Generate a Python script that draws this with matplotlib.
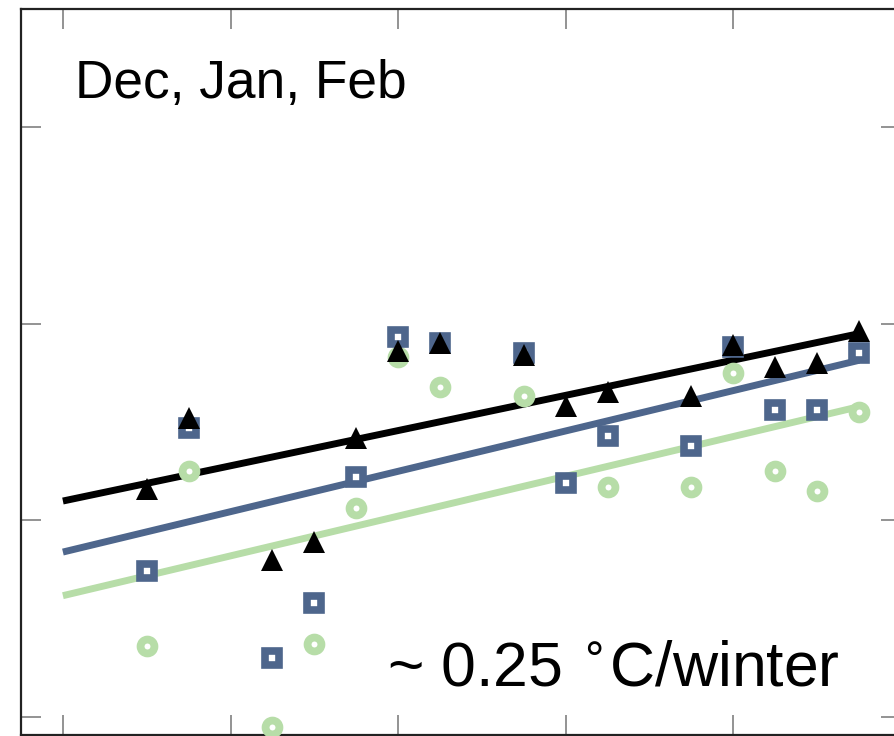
import numpy as np
import matplotlib
matplotlib.use("Agg")
import matplotlib.pyplot as plt

plt.rcParams['font.family'] = ['Liberation Sans', 'DejaVu Sans']

# winters (year of Jan) and mean Dec-Feb temperatures, three stations
years = [1994, 1995, 1997, 1998, 1999, 2000, 2001, 2003, 2004, 2005,
         2007, 2008, 2009, 2010, 2011]
temp_black = [-14.2, -12.4, -16.0, -15.55, -12.9, -10.7, -10.5, -10.8, -12.1, -11.75,
              -11.85, -10.55, -11.1, -11.0, -10.2]
temp_blue = [-16.3, -12.65, -18.5, -17.1, -13.9, -10.35, -10.5, -10.75, -14.05, -12.85,
             -13.1, -10.6, -12.2, -12.2, -10.75]
temp_green = [-18.2, -13.75, -20.25, -18.15, -14.7, -10.85, -11.6, -11.85, np.nan, -14.15,
              -14.15, -11.25, -13.75, -14.25, -12.25]

xticks = [1992, 1996, 2000, 2004, 2008]
yticks = [-20, -15, -10, -5]

c_black = 'black'
c_blue = '#4e668c'
c_green = '#b7dda8'

fig = plt.figure(figsize=(8.94, 7.36), dpi=100)
ax = fig.add_axes([21 / 894, 1 / 736, 880 / 894, 726 / 736])

x = np.array(years, dtype=float)
xfit = np.array([xticks[0], years[-1]], dtype=float)

for vals, col in [(temp_green, c_green), (temp_blue, c_blue), (temp_black, c_black)]:
    v = np.array(vals)
    ok = ~np.isnan(v)
    k, b = np.polyfit(x[ok], v[ok], 1)
    ax.plot(xfit, k * xfit + b, color=col, lw=5, zorder=2, solid_capstyle='butt')

ax.plot(x, temp_green, 'o', ms=10, mew=5.6, mfc='white', mec=c_green, zorder=3)
ax.plot(x, temp_blue, 's', ms=10.5, mew=5.5, mfc='white', mec=c_blue, zorder=4)
ax.plot(x, temp_black, '^', ms=16.5, mew=0, color=c_black, zorder=5)

ax.set_xlim(1991, 2012)
ax.set_ylim(-20.46, -2.0)
ax.set_xticks(xticks)
ax.set_yticks(yticks)
ax.tick_params(direction='in', length=14.5, width=1.2, color='#808080',
               top=True, right=True, labelbottom=False, labelleft=False)
for s in ax.spines.values():
    s.set_color('#222222')
    s.set_linewidth(1.6)

ax.text(75 / 894, 1 - 98 / 736, 'Dec, Jan, Feb', transform=fig.transFigure,
        fontsize=38.3, ha='left', va='baseline')
ax.text(387 / 894, 1 - 685 / 736, '~ 0.25 $^{\\circ}$C/winter', transform=fig.transFigure,
        fontsize=45, ha='left', va='baseline')

fig.savefig('out.png', dpi=100)
